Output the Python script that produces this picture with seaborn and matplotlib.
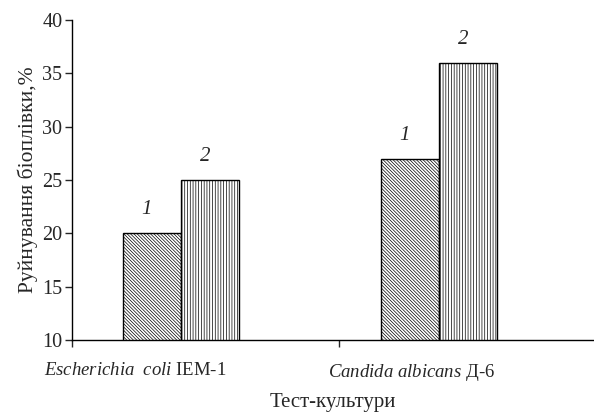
import pandas as pd
import matplotlib
matplotlib.use('agg')
import matplotlib.pyplot as plt
import seaborn as sns

# дані з рисунку
cultures = ["Escherichia coli IEM-1", "Candida albicans Д-6"]
samples = ["1", "2"]
values_1 = [20, 27]
values_2 = [25, 36]
culture_labels = [r"$\mathit{Escherichia\ \ coli}$ IEM-1", r"$\mathit{Candida\ albicans}$ Д-6"]
y_ticks = [10, 15, 20, 25, 30, 35, 40]

sns.set_theme(style="white")
plt.rcParams['font.family'] = ['Liberation Serif', 'DejaVu Serif']
plt.rcParams['mathtext.fontset'] = 'custom'
plt.rcParams['mathtext.rm'] = 'Liberation Serif'
plt.rcParams['mathtext.it'] = 'Liberation Serif:italic'
plt.rcParams['hatch.linewidth'] = 0.5

df = pd.DataFrame({
    'culture': cultures * 2,
    'sample': [samples[0]] * 2 + [samples[1]] * 2,
    'value': values_1 + values_2,
})

fig = plt.figure(figsize=(5.94, 4.12), dpi=100)
ax = fig.add_axes([0.1212, 0.1748, 0.8788, 0.7767])

sns.barplot(data=df, x='culture', y='value', hue='sample', order=cultures,
            hue_order=samples, palette=['white', 'white'], edgecolor='black',
            linewidth=1.0, width=0.45, legend=False, ax=ax)

hatches = {'1': '\\' * 10, '2': '|' * 6}
for container, s in zip(ax.containers, samples):
    for bar in container:
        bar.set_hatch(hatches[s])
        ax.text(bar.get_x() + bar.get_width() / 2 - 0.02, bar.get_height() + 1.3, s,
                ha='center', va='bottom', fontsize=15, style='italic')

ax.set_ylim(10, 40)
ax.set_yticks(y_ticks)
ax.set_xlim(-0.423, 1.6)

# мітки категорій і поділки осі окремо, як у вихідному графіку
ax.set_xticks([-0.176, 0.893])
ax.set_xticklabels(culture_labels, fontsize=13.5)
ax.set_xticks([-0.423, 0.612], minor=True)
ax.tick_params(axis='x', which='major', length=0, pad=16)
ax.tick_params(axis='x', which='minor', length=5, width=1, direction='out', bottom=True)
ax.tick_params(axis='y', length=5, width=1, direction='out', left=True, labelsize=14.5, pad=2)

for side in ['top', 'right']:
    ax.spines[side].set_visible(False)
for side in ['left', 'bottom']:
    ax.spines[side].set_color('black')
    ax.spines[side].set_linewidth(1.0)

ax.set_xlabel('Тест-культури', fontsize=15, labelpad=7)
ax.set_ylabel('Руйнування біоплівки,%', fontsize=15.5, labelpad=3)

fig.savefig('out.png', dpi=100)
